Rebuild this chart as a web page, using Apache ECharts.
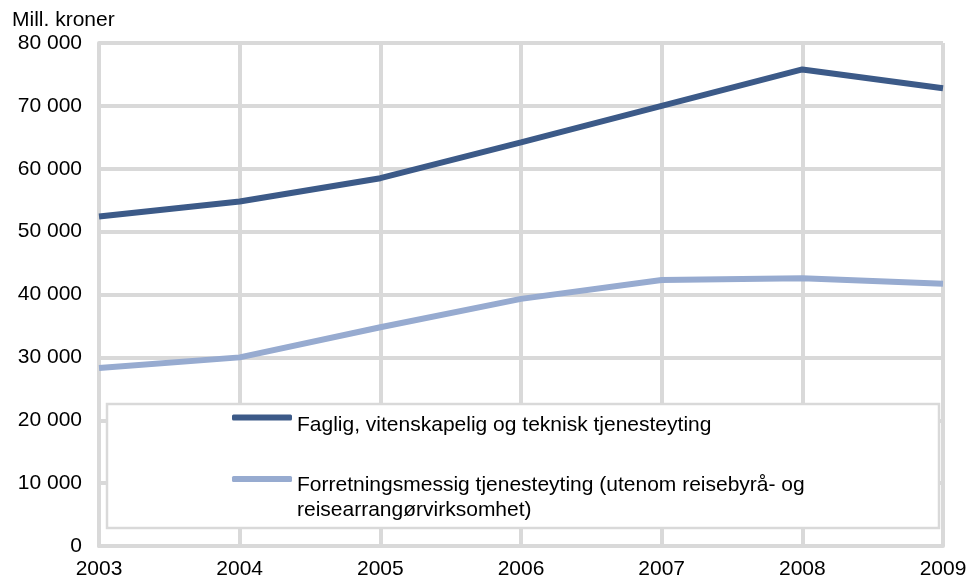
<!DOCTYPE html>
<html>
<head>
<meta charset="utf-8">
<script src="https://cdn.jsdelivr.net/npm/echarts@6/dist/echarts.min.js"></script>
<style>
html,body{margin:0;padding:0;background:#fff;}
#chart{width:970px;height:581px;}
</style>
</head>
<body>
<div id="chart"></div>
<script>
const years = ['2003','2004','2005','2006','2007','2008','2009'];
const seriesNames = [
  'Faglig, vitenskapelig og teknisk tjenesteyting',
  'Forretningsmessig tjenesteyting (utenom reisebyrå- og reisearrangørvirksomhet)'
];
const legendLines = [
  ['Faglig, vitenskapelig og teknisk tjenesteyting'],
  ['Forretningsmessig tjenesteyting (utenom reisebyrå- og', 'reisearrangørvirksomhet)']
];
const faglig = [52400, 54800, 58500, 64200, 70000, 75800, 72800];
const forretning = [28300, 30000, 34800, 39300, 42300, 42600, 41700];
const yTicks = { min: 0, max: 80000, interval: 10000 };
const unitLabel = 'Mill. kroner';

const FONT = '"Liberation Sans", Arial, sans-serif';
const grid = '#d9d9d9';
const colors = ['#3c5a88', '#97abd0'];

function legendText(i) {
  return '{s| }\n' + legendLines[i].map(l => '{t|' + l + '}').join('\n');
}
function legendRich(spacer) {
  return {
    s: { fontSize: 10, lineHeight: spacer, fontFamily: FONT },
    t: { fontSize: 21, lineHeight: 25, fontFamily: FONT, color: '#000' }
  };
}

const chart = echarts.init(document.getElementById('chart'), null, {renderer: 'canvas'});
chart.setOption({
  animation: false,
  backgroundColor: '#ffffff',
  textStyle: { fontFamily: FONT },
  grid: { left: 99, right: 27, top: 43, bottom: 35, containLabel: false },
  xAxis: {
    type: 'category',
    data: years,
    boundaryGap: false,
    axisLine: { lineStyle: { color: grid, width: 4 } },
    axisTick: { show: false },
    axisLabel: { color: '#000', fontSize: 21, fontFamily: FONT, margin: 13, showMaxLabel: true, showMinLabel: true },
    splitLine: { show: true, lineStyle: { color: grid, width: 4 } }
  },
  yAxis: {
    type: 'value',
    min: yTicks.min, max: yTicks.max, interval: yTicks.interval,
    axisLine: { show: true, lineStyle: { color: grid, width: 4 } },
    axisTick: { show: false },
    axisLabel: {
      color: '#000', fontSize: 21, fontFamily: FONT, margin: 17,
      formatter: v => String(v).replace(/\B(?=(\d{3})+(?!\d))/g, ' ')
    },
    splitLine: { show: true, lineStyle: { color: grid, width: 4 } }
  },
  graphic: [
    {
      type: 'rect', z: 3,
      shape: { x: 107, y: 404, width: 832, height: 124 },
      style: { fill: '#ffffff', stroke: grid, lineWidth: 2.5 }
    },
    {
      type: 'text', z: 3, left: 12, top: 10,
      style: { text: unitLabel, font: '21px ' + FONT, fill: '#000' }
    }
  ],
  legend: [
    {
      data: [seriesNames[0]], left: 232, top: 400, padding: 0, z: 5,
      icon: 'roundRect', itemWidth: 60, itemHeight: 6,
      formatter: () => legendText(0),
      textStyle: { fontSize: 21, fontFamily: FONT, color: '#000', rich: legendRich(15) }
    },
    {
      data: [seriesNames[1]], left: 232, top: 449, padding: 0, z: 5,
      icon: 'roundRect', itemWidth: 60, itemHeight: 6,
      formatter: () => legendText(1),
      textStyle: { fontSize: 21, fontFamily: FONT, color: '#000', rich: legendRich(37) }
    }
  ],
  series: [
    {
      name: seriesNames[0], type: 'line', data: faglig, z: 4,
      showSymbol: false, symbol: 'none',
      lineStyle: { color: colors[0], width: 6 }, itemStyle: { color: colors[0] }
    },
    {
      name: seriesNames[1], type: 'line', data: forretning, z: 4,
      showSymbol: false, symbol: 'none',
      lineStyle: { color: colors[1], width: 6 }, itemStyle: { color: colors[1] }
    }
  ]
});
</script>
</body>
</html>
